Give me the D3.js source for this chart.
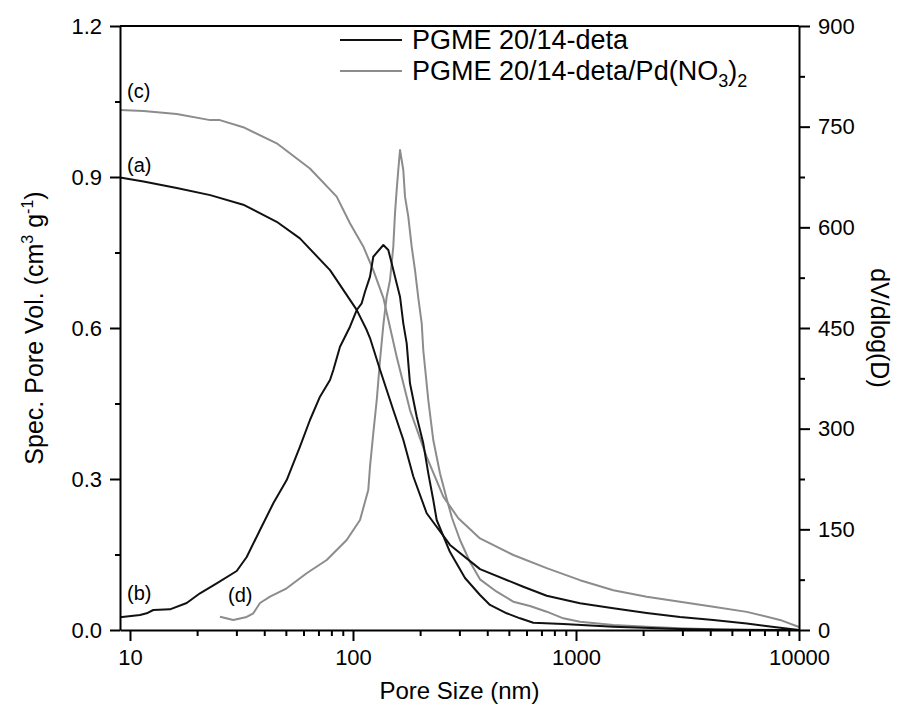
<!DOCTYPE html>
<html><head><meta charset="utf-8">
<script src="https://cdn.jsdelivr.net/npm/d3@7/dist/d3.min.js"></script>
<style>body{margin:0;background:#fff}svg{display:block}</style>
</head><body><svg id="c" width="904" height="724"></svg>
<script>
// ---- data ----
// (a) cumulative pore volume, PGME 20/14-deta (left axis)
const sizeA = [9.02, 11.5, 16.2, 22.9, 32.2, 45.5, 57.8, 78.9, 103.9, 115.2, 119.2, 132.2, 151.6, 168.1, 186.4, 214.0, 272.3, 371.2, 580.4, 738.9, 1042, 1470, 2075, 2927, 4128, 5830, 7413, 10000];
const volA  = [0.899, 0.891, 0.878, 0.864, 0.845, 0.811, 0.778, 0.715, 0.636, 0.596, 0.580, 0.517, 0.437, 0.378, 0.305, 0.232, 0.169, 0.121, 0.086, 0.068, 0.053, 0.043, 0.034, 0.026, 0.020, 0.013, 0.007, 0.0];
// (b) dV/dlog(D), PGME 20/14-deta (right axis)
const sizeB = [9.02, 11.09, 11.88, 12.72, 15.11, 17.96, 20.6, 24.48, 30.1, 33.37, 38.28, 43.92, 50.43, 57.84, 64.13, 71.12, 78.88, 81.62, 87.45, 96.94, 103.9, 109.4, 113.2, 119.2, 123.3, 136.8, 144.0, 149.1, 154.3, 162.5, 168.1, 174.1, 180.1, 193.1, 206.6, 217.6, 229.1, 237.3, 272.3, 317.9, 371.2, 411.5, 489, 561, 643.6, 877, 1470, 2927, 5830, 10000];
const dvB   = [18.9, 22.4, 24.9, 29.8, 30.8, 40.2, 54.7, 69.6, 87.9, 108.8, 149.0, 188.8, 223.5, 273.1, 312.9, 347.6, 372.5, 387.4, 422.1, 451.9, 476.8, 486.8, 504.1, 526.5, 556.2, 573.7, 566.2, 546.4, 526.5, 496.6, 457.0, 427.2, 367.6, 317.8, 278.2, 233.5, 193.7, 163.9, 116.2, 77.5, 52.2, 37.3, 24.9, 17.4, 10.9, 8.9, 4.9, 1.5, 0, 0];
// (c) cumulative pore volume, PGME 20/14-deta/Pd(NO3)2 (left axis)
const sizeC = [9.02, 11.5, 16.2, 22.9, 25.3, 32.2, 45.5, 64.1, 84.5, 96.9, 111.2, 123.3, 136.8, 157.0, 180.1, 214.0, 254.1, 296.7, 371.2, 523.4, 738.9, 1042, 1470, 2075, 2927, 4128, 5830, 8217, 10000];
const volC  = [1.033, 1.031, 1.025, 1.013, 1.013, 0.999, 0.967, 0.917, 0.861, 0.808, 0.762, 0.715, 0.660, 0.543, 0.437, 0.344, 0.265, 0.222, 0.182, 0.149, 0.123, 0.099, 0.079, 0.066, 0.056, 0.046, 0.036, 0.020, 0.006];
// (d) dV/dlog(D), PGME 20/14-deta/Pd(NO3)2 (right axis)
const sizeD = [25.33, 29.06, 33.37, 35.73, 38.28, 42.45, 50.43, 61.98, 76.23, 93.71, 107.5, 117.1, 119.2, 123.3, 127.8, 132.2, 136.8, 141.6, 146.6, 151.6, 154.3, 157.0, 159.6, 162.5, 168.1, 171.1, 177.0, 183.3, 189.7, 196.3, 203.3, 206.6, 217.6, 229.1, 245.5, 264.0, 278.0, 301.9, 334.7, 371.2, 441.0, 523.4, 622.0, 738.9, 877, 1042, 1470, 2075, 2927, 4128, 10000];
const dvD   = [19.8, 14.9, 19.4, 24.9, 40.2, 49.6, 62.1, 84.5, 104.3, 134.1, 163.9, 208.6, 243.3, 293.1, 342.7, 402.3, 454.5, 496.6, 521.5, 571.2, 620.9, 655.6, 685.4, 715.2, 685.4, 645.7, 615.9, 571.2, 536.4, 494.7, 457.0, 417.2, 342.7, 283.1, 233.5, 193.7, 166.9, 134.1, 101.3, 75.5, 57.1, 42.2, 35.8, 27.3, 17.4, 12.4, 7.5, 4.9, 2.5, 1.0, 0];

const xTicks = [10, 100, 1000, 10000];
const xMinor = [20,30,40,50,60,70,80,90,200,300,400,500,600,700,800,900,2000,3000,4000,5000,6000,7000,8000,9000];
const leftTicks = [0, 0.3, 0.6, 0.9, 1.2];
const leftMinor = [0.15, 0.45, 0.75, 1.05];
const rightTicks = [0, 150, 300, 450, 600, 750, 900];
const rightMinor = [75, 225, 375, 525, 675, 825];
const legendLabels = ["PGME 20/14-deta", "PGME 20/14-deta/Pd(NO"];
const curveLabels = ["(a)", "(b)", "(c)", "(d)"];

// ---- drawing ----
const FONT = "'Liberation Sans', Arial, sans-serif";
const BLACK = "#111", GRAY = "#8c8c8c";
const svg = d3.select('#c').style('font-family', FONT);
const L = 120, R = 799, T = 26, B = 630;
const x = d3.scaleLog().domain([9.02, 10000]).range([L, R]);
const yL = d3.scaleLinear().domain([0, 1.2]).range([B, T]);
const yR = d3.scaleLinear().domain([0, 900]).range([B, T]);

function styleAxis(g, size) {
  g.selectAll('path,line').attr('stroke', '#000').attr('stroke-width', 2);
  g.selectAll('text').attr('font-family', FONT).attr('font-size', size).attr('fill', '#000');
}

// curves
const lineL = d3.line().x(d => x(d[0])).y(d => yL(d[1]));
const lineR = d3.line().x(d => x(d[0])).y(d => yR(d[1]));
const curves = [
  {data: d3.zip(sizeC, volC), gen: lineL, color: GRAY},
  {data: d3.zip(sizeD, dvD), gen: lineR, color: GRAY},
  {data: d3.zip(sizeA, volA), gen: lineL, color: BLACK},
  {data: d3.zip(sizeB, dvB), gen: lineR, color: BLACK}
];
const cg = svg.append('g');
curves.forEach(c => {
  cg.append('path').attr('d', c.gen(c.data)).attr('fill', 'none')
    .attr('stroke', c.color).attr('stroke-width', 2).attr('stroke-linejoin', 'round');
});

// axes
const gxMin = svg.append('g').attr('transform', `translate(0,${B})`)
  .call(d3.axisBottom(x).tickValues(xMinor).tickSize(6).tickFormat(''));
gxMin.select('.domain').remove(); styleAxis(gxMin, 22);
const gx = svg.append('g').attr('transform', `translate(0,${B})`)
  .call(d3.axisBottom(x).tickValues(xTicks).tickSize(11).tickSizeOuter(0).tickPadding(8).tickFormat(d3.format('d')));
styleAxis(gx, 22);

const glMin = svg.append('g').attr('transform', `translate(${L},0)`)
  .call(d3.axisLeft(yL).tickValues(leftMinor).tickSize(5).tickFormat(''));
glMin.select('.domain').remove(); styleAxis(glMin, 22);
const gl = svg.append('g').attr('transform', `translate(${L},0)`)
  .call(d3.axisLeft(yL).tickValues(leftTicks).tickSize(10).tickSizeOuter(0).tickPadding(8).tickFormat(d3.format('.1f')));
styleAxis(gl, 22);

const grMin = svg.append('g').attr('transform', `translate(${R},0)`)
  .call(d3.axisRight(yR).tickValues(rightMinor).tickSize(6).tickFormat(''));
grMin.select('.domain').remove(); styleAxis(grMin, 22);
const gr = svg.append('g').attr('transform', `translate(${R},0)`)
  .call(d3.axisRight(yR).tickValues(rightTicks).tickSize(11).tickSizeOuter(0).tickPadding(8).tickFormat(d3.format('d')));
styleAxis(gr, 22);

// top frame line
svg.append('line').attr('x1', L).attr('x2', R).attr('y1', T).attr('y2', T)
  .attr('stroke', '#000').attr('stroke-width', 2);

// axis titles
svg.append('text').attr('x', (L + R) / 2).attr('y', 699).attr('text-anchor', 'middle')
  .attr('font-size', 24).text('Pore Size (nm)');
const lt = svg.append('text').attr('transform', `translate(43,${(T + B) / 2}) rotate(-90)`)
  .attr('text-anchor', 'middle').attr('font-size', 25);
lt.append('tspan').text('Spec. Pore Vol. (cm');
lt.append('tspan').attr('font-size', 16).attr('dy', -10).text('3');
lt.append('tspan').attr('dy', 10).text(' g');
lt.append('tspan').attr('font-size', 16).attr('dy', -10).text('-1');
lt.append('tspan').attr('dy', 10).text(')');
svg.append('text').attr('transform', `translate(871,${(T + B) / 2}) rotate(90)`)
  .attr('text-anchor', 'middle').attr('font-size', 25).text('dV/dlog(D)');

// legend
const legY = [40, 71];
const legC = [BLACK, GRAY];
legY.forEach((yy, i) => {
  svg.append('line').attr('x1', 340).attr('x2', 402).attr('y1', yy).attr('y2', yy)
    .attr('stroke', legC[i]).attr('stroke-width', 2);
  const t = svg.append('text').attr('x', 412).attr('y', yy).attr('dy', '0.35em').attr('font-size', 27);
  t.append('tspan').text(legendLabels[i]);
  if (i === 1) {
    t.append('tspan').attr('font-size', 18).attr('dy', 7).text('3');
    t.append('tspan').attr('dy', -7).text(')');
    t.append('tspan').attr('font-size', 18).attr('dy', 7).text('2');
  }
});

// curve labels
const labPos = [[127, 172], [127, 600], [127, 98], [228, 602]];
curveLabels.forEach((s, i) => {
  svg.append('text').attr('x', labPos[i][0]).attr('y', labPos[i][1]).attr('font-size', 20).text(s);
});
</script></body></html>
